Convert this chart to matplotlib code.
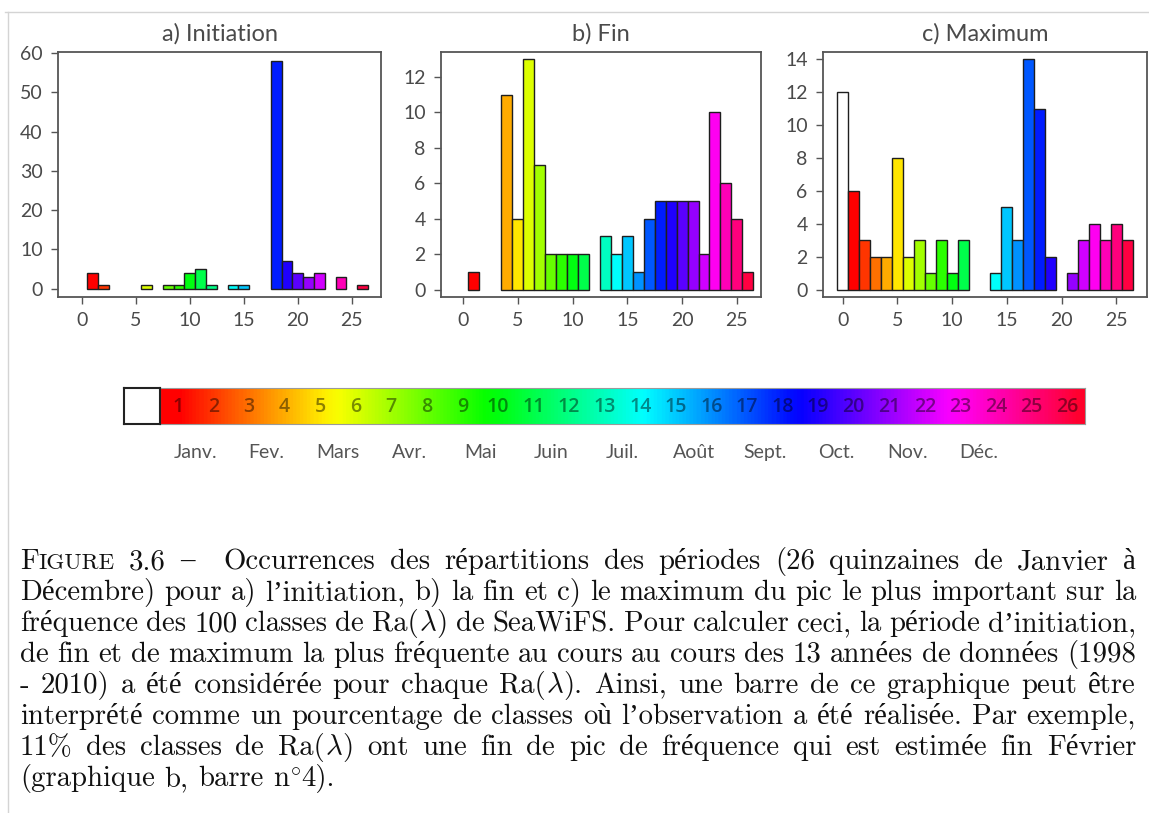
import numpy as np
import matplotlib
matplotlib.use('Agg')
import matplotlib.pyplot as plt

plt.rcParams['mathtext.fontset'] = 'cm'

# ---------------- data ----------------
positions = list(range(27))          # 0 = no peak (white), 1..26 = quinzaines
init_counts = [0, 4, 1, 0, 0, 0, 1, 0, 1, 1, 4, 5, 1, 0, 1, 1, 0, 0, 58, 7, 4, 3, 4, 0, 3, 0, 1]
fin_counts = [0, 1, 0, 0, 11, 4, 13, 7, 2, 2, 2, 2, 0, 3, 2, 3, 1, 4, 5, 5, 5, 5, 2, 10, 6, 4, 1]
max_counts = [12, 6, 3, 2, 2, 8, 2, 3, 1, 3, 1, 3, 0, 0, 1, 5, 3, 14, 11, 2, 0, 1, 3, 4, 3, 4, 3]
panel_titles = ['a) Initiation', 'b) Fin', 'c) Maximum']
xtick_values = [0, 5, 10, 15, 20, 25]
ytick_a = [0, 10, 20, 30, 40, 50, 60]
ytick_b = [0, 2, 4, 6, 8, 10, 12]
ytick_c = [0, 2, 4, 6, 8, 10, 12, 14]
quinzaines = list(range(1, 27))
months = ['Janv.', 'Fev.', 'Mars', 'Avr.', 'Mai', 'Juin', 'Juil.', 'Août',
          'Sept.', 'Oct.', 'Nov.', 'Déc.']
caption_lines = [
    "FIGURE 3.6 – Occurrences des répartitions des périodes (26 quinzaines de Janvier à",
    "Décembre) pour a) l’initiation, b) la fin et c) le maximum du pic le plus important sur la",
    "fréquence des 100 classes de Ra(λ) de SeaWiFS. Pour calculer ceci, la période d’initiation,",
    "de fin et de maximum la plus fréquente au cours au cours des 13 années de données (1998",
    "- 2010) a été considérée pour chaque Ra(λ). Ainsi, une barre de ce graphique peut être",
    "interprété comme un pourcentage de classes où l’observation a été réalisée. Par exemple,",
    "11% des classes de Ra(λ) ont une fin de pic de fréquence qui est estimée fin Février",
    "(graphique b, barre n°4).",
]

# ---------------- figure ----------------
W, H = 1149, 813
fig = plt.figure(figsize=(W / 100, H / 100), dpi=100)
fig.patch.set_facecolor('white')
cmap = plt.get_cmap('hsv')
SANS = ['Lato', 'DejaVu Sans']
SERIF = ['cmr10', 'Liberation Serif', 'DejaVu Serif']
GREY = '#4a4a4a'


def hue_of(q):
    return np.clip((np.asarray(q, float) - 1) / 25 * 0.97, 0, 1)


bar_colors = [(1, 1, 1, 1) if p == 0 else cmap(float(hue_of(p))) for p in positions]


def px_axes(l, t, r, b):
    return fig.add_axes([l / W, 1 - b / H, (r - l) / W, (b - t) / H])


panels = [
    (init_counts, (58, 52, 381, 297), (-2.2, 27.7), (-2.1, 60.3), ytick_a),
    (fin_counts, (441, 52, 761, 297), (-2.0, 27.2), (-0.42, 13.4), ytick_b),
    (max_counts, (823, 52, 1147, 297), (-1.8, 27.8), (-0.45, 14.45), ytick_c),
]

for (counts, box, xl, yl, yt), title in zip(panels, panel_titles):
    ax = px_axes(*box)
    pos = np.array(positions)
    vals = np.array(counts)
    m = vals > 0
    ax.bar(pos[m], vals[m], width=1.0, color=[bar_colors[i] for i in pos[m]],
           edgecolor='#1e1e1e', linewidth=1.0)
    ax.set_xlim(*xl)
    ax.set_ylim(*yl)
    ax.set_xticks(xtick_values)
    ax.set_yticks(yt)
    ax.tick_params(direction='out', length=5, width=1, color='#555555',
                   labelsize=14, labelcolor=GREY, pad=6)
    for lab in ax.get_xticklabels() + ax.get_yticklabels():
        lab.set_family(SANS)
    for s in ax.spines.values():
        s.set_color('#555555')
        s.set_linewidth(1.3)
    ax.set_title(title, fontsize=17, color=GREY, family=SANS, pad=8)

# ---------------- colour bar ----------------
cax = px_axes(160, 388, 1085, 424)
xs = np.linspace(0.5, 26.5, 800)
cax.imshow(hue_of(xs)[None, :], cmap=cmap, vmin=0, vmax=1, aspect='auto',
           extent=(0.5, 26.5, 0, 1), interpolation='bilinear')
cax.set_xlim(0.5, 26.5)
cax.set_ylim(0, 1)
cax.set_xticks([])
cax.set_yticks([])
for s in cax.spines.values():
    s.set_color('#9a9a9a')
    s.set_linewidth(0.8)
for q in quinzaines:
    cax.text(q, 0.48, str(q), ha='center', va='center', fontsize=14,
             color='black', alpha=0.45, family=['Open Sans', 'DejaVu Sans'],
             fontweight='semibold')
for k, mname in enumerate(months):
    cax.text(1.5 + 2 * k, -0.8, mname, ha='center', va='center', fontsize=14,
             color='#555555', family=SANS)

wax = px_axes(124, 388, 160, 424)
wax.set_xticks([])
wax.set_yticks([])
for s in wax.spines.values():
    s.set_color('#222222')
    s.set_linewidth(1.5)

# image border lines
fig.add_artist(plt.Line2D([5 / W, 1], [1 - 12 / H, 1 - 12 / H], color='#d4d4d4', lw=1))
fig.add_artist(plt.Line2D([8 / W, 8 / W], [0, 1 - 12 / H], color='#d4d4d4', lw=1))

# ---------------- caption (justified) ----------------
renderer = fig.canvas.get_renderer()
LEFT, RIGHT = 20, 1136
BASE0, LEAD = 569, 31


def runs_for(word, size):
    if word == 'FIGURE':
        return [('F', size), ('IGURE', size * 0.8)]
    if 'λ' in word:
        pre, post = word.split('λ')
        return [(pre, size), (r'$\lambda$', size), (post, size)]
    if '°' in word:
        pre, post = word.split('°')
        return [(pre, size), (r'$^{\circ}$', size), (post, size)]
    return [(word, size)]


def build_line(line, y, size):
    groups, widths = [], []
    for w in line.split(' '):
        group, tw = [], 0.0
        for s, sz in runs_for(w, size):
            if not s:
                continue
            t = fig.text(0, y, s, fontsize=sz, family=SERIF, va='baseline',
                         ha='left', color='#111111')
            wd = t.get_window_extent(renderer).width
            group.append((t, tw))
            tw += wd
        groups.append(group)
        widths.append(tw)
    return groups, widths


# calibrate font size so that lines fill the measure with normal spacing
BASE_SIZE = 10.0
naturals = []
for line in caption_lines[:-1]:
    groups, widths = build_line(line, 0.5, BASE_SIZE)
    space = 0.333 * BASE_SIZE * 100 / 72
    naturals.append(sum(widths) + space * (len(widths) - 1))
    for g in groups:
        for t, _ in g:
            t.remove()
CAP = BASE_SIZE * (RIGHT - LEFT) / float(np.median(naturals))

for li, line in enumerate(caption_lines):
    y = 1 - (BASE0 + li * LEAD) / H
    groups, widths = build_line(line, y, CAP)
    words = line.split(' ')
    extra = [0.0] * len(words)
    if len(words) > 2 and words[2] == '–':
        extra[2] = 0.5 * CAP * 100 / 72
    total = sum(widths) + sum(extra)
    if li < len(caption_lines) - 1:
        gap = (RIGHT - LEFT - total) / (len(words) - 1)
    else:
        gap = 0.333 * CAP * 100 / 72
    x = LEFT
    for group, wd, ex in zip(groups, widths, extra):
        for t, off in group:
            t.set_x((x + off) / W)
        x += wd + gap + ex

fig.savefig('out.png', dpi=100, facecolor='white')
